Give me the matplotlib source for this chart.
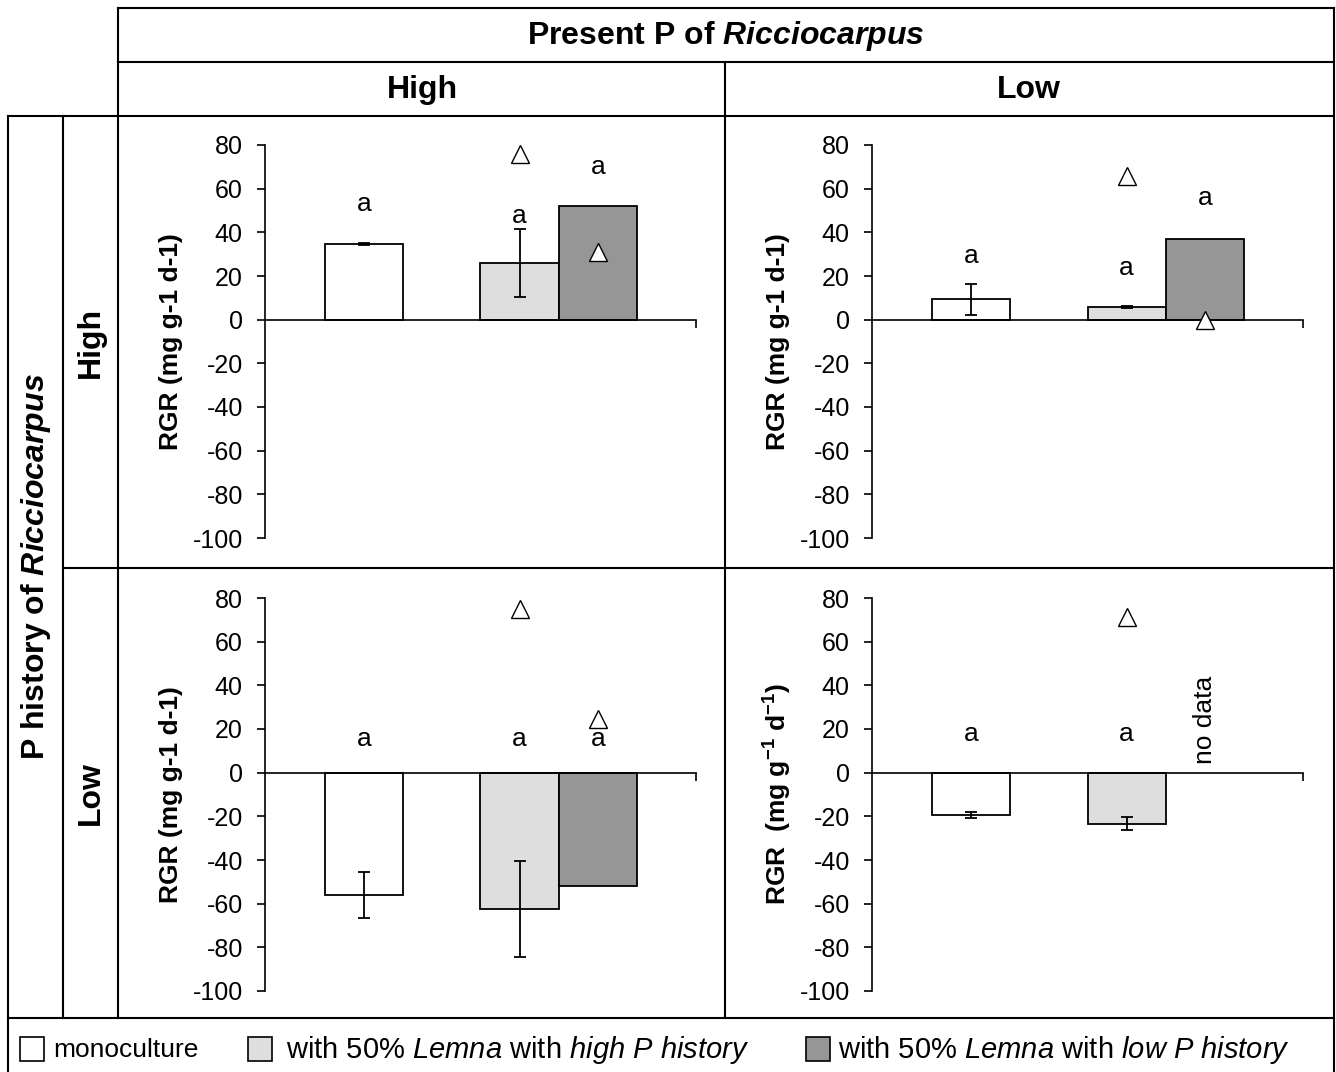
import numpy as np
import matplotlib
matplotlib.use("Agg")
import matplotlib.pyplot as plt
from matplotlib.patches import Rectangle

plt.rcParams["font.family"] = "Liberation Sans"
plt.rcParams["mathtext.fontset"] = "custom"
plt.rcParams["mathtext.rm"] = "Liberation Sans"
plt.rcParams["mathtext.it"] = "Liberation Sans:italic"
plt.rcParams["mathtext.bf"] = "Liberation Sans:bold"
plt.rcParams["mathtext.bfit"] = "Liberation Sans:bold:italic"
plt.rcParams["axes.unicode_minus"] = False

# panels: (history high, present high), (history high, present low),
#         (history low, present high),  (history low, present low)
mono_mean = [34.5, 9.3, -56.1, -19.5]
mono_err = [0.5, 7.1, 10.6, 1.3]
high_mean = [25.9, 5.8, -62.5, -23.3]
high_err = [15.5, 0.6, 22.0, 3.1]
low_mean = [52.0, 36.9, -52.1, np.nan]

# open triangles (Lemna values)
tri_high = [75.9, 65.7, 75.0, 71.2]
tri_low = [31.2, 0.0, 24.7, np.nan]

# significance letters and their heights
letters_mono = [53.0, 29.0, 15.5, 17.8]
letters_high = [47.7, 23.6, 15.5, 17.8]
letters_low = [69.8, 55.6, 15.5, np.nan]

yticks = [-100, -80, -60, -40, -20, 0, 20, 40, 60, 80]
ylabels = ["RGR (mg g-1 d-1)", "RGR (mg g-1 d-1)", "RGR (mg g-1 d-1)",
           r"RGR  (mg g$^{\mathbf{-1}}$ d$^{\mathbf{-1}}$)"]

colors = ["white", "#dedede", "#969696"]

W, H = 1336, 1072
fig = plt.figure(figsize=(W / 100, H / 100), dpi=100)

# table frame
ax0 = fig.add_axes([0, 0, 1, 1])
ax0.set_xlim(0, W)
ax0.set_ylim(H, 0)
ax0.axis("off")
lw = 1.5
for y, x0, x1 in [(8, 118, 1334), (62, 118, 1334), (116, 8, 1334),
                  (568, 63, 1334), (1018, 8, 1334)]:
    ax0.plot([x0, x1], [y, y], color="black", lw=lw)
for x, y0, y1 in [(8, 116, 1072), (63, 116, 1018), (118, 8, 1018),
                  (725, 62, 1018), (1334, 8, 1072)]:
    ax0.plot([x, x], [y0, y1], color="black", lw=lw)

ax0.text(726, 36, r"Present P of $\mathbfit{Ricciocarpus}$", fontsize=23,
         fontweight="bold", ha="center", va="center")
ax0.text(422, 90, "High", fontsize=23, fontweight="bold", ha="center", va="center")
ax0.text(1029, 90, "Low", fontsize=23, fontweight="bold", ha="center", va="center")
ax0.text(36, 567, r"P history of $\mathbfit{Ricciocarpus}$", fontsize=23,
         fontweight="bold", ha="center", va="center", rotation=90)
ax0.text(91, 342, "High", fontsize=23, fontweight="bold", ha="center",
         va="center", rotation=90)
ax0.text(91, 793, "Low", fontsize=23, fontweight="bold", ha="center",
         va="center", rotation=90)

# legend row
leg_items = [(20, 53, "monoculture", 19),
             (248, 286, r"with 50% $\mathit{Lemna}$ with $\mathit{high\ P\ history}$", 21),
             (806, 838, r"with 50% $\mathit{Lemna}$ with $\mathit{low\ P\ history}$", 21)]
for (bx, tx, label, fs), c in zip(leg_items, colors):
    ax0.add_patch(Rectangle((bx, 1037), 24, 24, facecolor=c, edgecolor="black", lw=1.2))
    ax0.text(tx, 1050, label, fontsize=fs, ha="left", va="center")

# bar panels
w = 0.402
xpos = [0, 1 - w / 2, 1 + w / 2]
xmin, xmax = -0.506, 1.702
lefts = [265, 872, 265, 872]
tops = [145, 145, 598, 598]
for i in range(4):
    l = lefts[i] / W
    b = 1 - (tops[i] + 393) / H
    ax = fig.add_axes([l, b, 431 / W, 393 / H])
    ax.patch.set_alpha(0)
    means = [mono_mean[i], high_mean[i], low_mean[i]]
    errs = [mono_err[i], high_err[i], np.nan]
    for x, m, e, c in zip(xpos, means, errs, colors):
        if np.isnan(m):
            continue
        ax.bar(x, m, width=w, color=c, edgecolor="black", linewidth=1.3, zorder=2)
        if not np.isnan(e):
            ax.errorbar(x, m, yerr=e, color="black", capsize=4, elinewidth=1.3,
                        capthick=1.3, fmt="none", zorder=3)
    for x, t in zip(xpos[1:], [tri_high[i], tri_low[i]]):
        if not np.isnan(t):
            ax.plot(x, t, marker="^", markersize=13, markerfacecolor="white",
                    markeredgecolor="black", markeredgewidth=1, zorder=4)
    for x, yl in zip(xpos, [letters_mono[i], letters_high[i], letters_low[i]]):
        if not np.isnan(yl):
            ax.text(x, yl, "a", fontsize=19, ha="center", va="center")
    if i == 3:
        ax.text(xpos[2], 24.4, "no data", fontsize=19, rotation=90,
                ha="center", va="center")
    ax.set_xlim(xmin, xmax)
    ax.set_ylim(-100, 80)
    ax.set_yticks(yticks)
    ax.set_xticks([xmax])
    ax.set_xticklabels([])
    ax.tick_params(axis="y", direction="out", length=6, width=1.2, labelsize=18, pad=10)
    ax.tick_params(axis="x", direction="out", length=6, width=1.2)
    ax.spines["top"].set_visible(False)
    ax.spines["right"].set_visible(False)
    ax.spines["bottom"].set_position(("data", 0))
    ax.spines["left"].set_linewidth(1.2)
    ax.spines["bottom"].set_linewidth(1.2)
    ax.text(-0.218, 0.5, ylabels[i], transform=ax.transAxes, fontsize=19,
            fontweight="bold", rotation=90, ha="center", va="center")

fig.savefig("out.png", dpi=100)
